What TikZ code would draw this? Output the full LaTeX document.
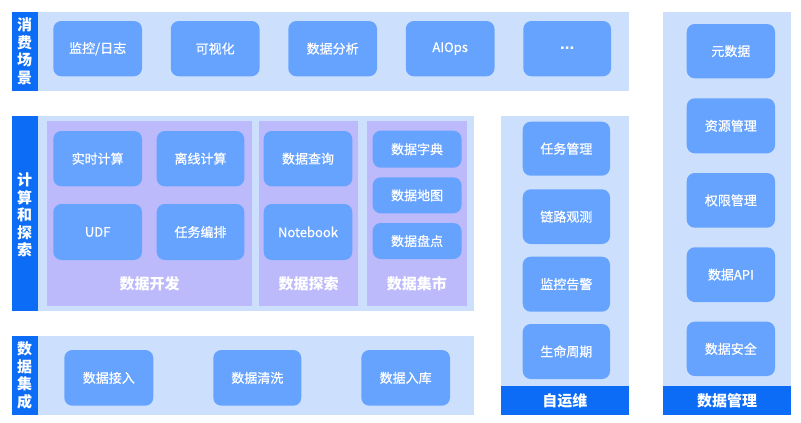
\documentclass[tikz,border=0pt]{standalone}
\usepackage{fontspec}
\setmainfont{Noto Sans CJK SC}
\newfontfamily\medfont{Noto Sans CJK SC}[FakeBold=0.6]
\newfontfamily\dotfont{Liberation Sans}
\definecolor{bandc}{RGB}{204,224,253}
\definecolor{boxc}{RGB}{102,163,255}
\definecolor{purp}{RGB}{189,186,252}
\definecolor{deep}{RGB}{12,108,245}
\tikzset{
  box/.style={rounded corners=8pt, fill=boxc, text=white, inner sep=0pt, outer sep=0pt,
    font=\medfont\fontsize{13}{15}\selectfont},
  band/.style={fill=bandc, draw=none},
  purpzone/.style={fill=purp, draw=none},
  strip/.style={fill=deep, draw=none},
  striptext/.style={text=white, align=center, inner sep=0pt,
    font=\fontsize{15}{17.5}\selectfont\bfseries},
  zonetext/.style={text=white, inner sep=0pt, font=\fontsize{15}{17}\selectfont\bfseries},
}
\newcommand\bxat[6]{\node[box, minimum width={#4-#2}, minimum height={#5-#3}] (#1) at ({(#2+#4)/2},{(#3+#5)/2}) {#6};}
\begin{document}
\begin{tikzpicture}[x=1pt,y=-1pt]
\useasboundingbox (0,0) rectangle (801,423);
% ---- top band
\path[band] (37.7,11.7) rectangle (629,90.7);
\path[strip] (11.7,11.7) rectangle (37.7,90.7);
\node[striptext] (l1) at (24.7,51.2) {消\\费\\场\\景};
\bxat{t1}{53.3}{21}{142}{76.3}{监控/日志}
\bxat{t2}{170.8}{21}{259.5}{76.3}{可视化}
\bxat{t3}{288.3}{21}{377}{76.3}{数据分析}
\bxat{t4}{405.8}{21}{494.5}{76.3}{AIOps}
\bxat{t5}{523.3}{21}{611}{76.3}{\dotfont\bfseries\fontsize{17}{19}\selectfont ...}
% ---- middle band
\path[band] (37.7,116) rectangle (473.5,310.7);
\path[strip] (11.7,116) rectangle (37.7,310.7);
\node[striptext] (l2) at (24.7,215) {计\\算\\和\\探\\索};
\path[purpzone] (47.3,120.7) rectangle (251.7,306);
\path[purpzone] (259,120.7) rectangle (358,306);
\path[purpzone] (366.7,120.7) rectangle (467,306);
\bxat{m1}{53.3}{131}{142}{186.3}{实时计算}
\bxat{m2}{156.7}{131}{244.3}{186.3}{离线计算}
\bxat{m3}{53.3}{204}{142}{260}{UDF}
\bxat{m4}{156.7}{204}{244.3}{260}{任务编排}
\bxat{m5}{263.7}{131}{352.3}{186.3}{数据查询}
\bxat{m6}{263.7}{204}{352.3}{260}{Notebook}
\bxat{m7}{372.7}{130.7}{461.5}{167.7}{数据字典}
\bxat{m8}{372.7}{177.3}{461.5}{213.3}{数据地图}
\bxat{m9}{372.7}{223}{461.5}{259}{数据盘点}
\node[zonetext] (z1) at (149.5,284) {数据开发};
\node[zonetext] (z2) at (308.5,284) {数据探索};
\node[zonetext] (z3) at (416.8,284) {数据集市};
% ---- bottom band
\path[band] (37.7,336) rectangle (473.5,415);
\path[strip] (11.7,336) rectangle (37.7,415);
\node[striptext] (l3) at (24.7,375.5) {数\\据\\集\\成};
\bxat{b1}{64.3}{350}{153.3}{405.7}{数据接入}
\bxat{b2}{213.3}{350}{301.3}{405.7}{数据清洗}
\bxat{b3}{361.3}{350}{450}{405.7}{数据入库}
% ---- ops column
\path[band] (500.7,116) rectangle (629,415);
\path[strip] (500.7,386) rectangle (629,415);
\node[zonetext] (f1) at (564.8,400.5) {自运维};
\bxat{o1}{522.7}{121.7}{610}{175.7}{任务管理}
\bxat{o2}{522.7}{189.3}{610}{244}{链路观测}
\bxat{o3}{522.7}{256.7}{610}{311.7}{监控告警}
\bxat{o4}{522.7}{324}{610}{379}{生命周期}
% ---- data management column
\path[band] (662.7,12.3) rectangle (791.3,415);
\path[strip] (662.7,386) rectangle (791.3,415);
\node[zonetext] (f2) at (727,400.5) {数据管理};
\bxat{d1}{686.7}{24}{775}{78.3}{元数据}
\bxat{d2}{686.7}{98.3}{775}{153.3}{资源管理}
\bxat{d3}{686.7}{173}{775}{227.7}{权限管理}
\bxat{d4}{686.7}{247.3}{775}{302}{数据API}
\bxat{d5}{686.7}{321.7}{775}{376}{数据安全}
\end{tikzpicture}
\end{document}
